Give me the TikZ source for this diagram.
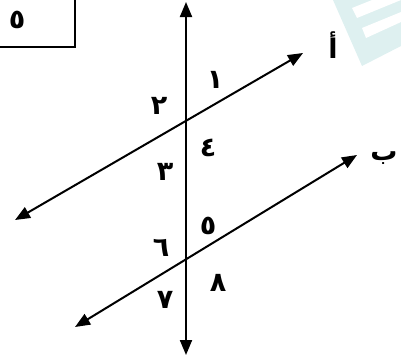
\documentclass[tikz,border=0pt]{standalone}
\usepackage{fontspec}
\newfontfamily\arabicfont[Script=Arabic]{DejaVu Sans}
\usetikzlibrary{arrows.meta}
\TeXXeTstate=1
\begin{document}
\begin{tikzpicture}[x=1pt,y=-1pt,
  ln/.style={line width=2pt, {Triangle[length=15pt,width=12pt]}-{Triangle[length=15pt,width=12pt]}},
  lbl/.style={font=\arabicfont\bfseries\fontsize{27}{30}\selectfont, inner sep=0pt}]
\useasboundingbox (0,0) rectangle (401,360);
% watermark
\definecolor{wm}{RGB}{222,240,240}
\fill[wm] (333,0) -- (362,66) -- (401,46) -- (401,0) -- cycle;
\fill[white] (352,8) -- (357,18) -- (401,0) -- (372,0) -- cycle;
\fill[white] (362,28) -- (366,38) -- (401,22) -- (401,12) -- cycle;
% box
\draw[line width=2pt] (-5,-5) rectangle (75,47);
\node[lbl] (box) at (17,20) {\beginR ٥\endR};
% points
\coordinate (vt) at (186,2);
\coordinate (vb) at (186,355);
\coordinate (at) at (303,53);
\coordinate (ab) at (15,220);
\coordinate (bt) at (357,155);
\coordinate (bb) at (75,327);
\draw[ln] (vb) -- (vt);
\draw[ln] (ab) -- (at);
\draw[ln] (bb) -- (bt);
% labels
\node[lbl] (n1) at (215,80) {١};
\node[lbl] (n2) at (159,106) {٢};
\node[lbl] (n4) at (208,148) {٤};
\node[lbl] (n3) at (165,172) {٣};
\node[lbl] (n5) at (208,226) {٥};
\node[lbl] (n6) at (161,248) {٦};
\node[lbl] (n8) at (218,283) {٨};
\node[lbl] (n7) at (165,300) {٧};
\node[lbl] (la) at (333,45) {أ};
\node[lbl] (lb) at (384,158) {ب};
\end{tikzpicture}
\end{document}
